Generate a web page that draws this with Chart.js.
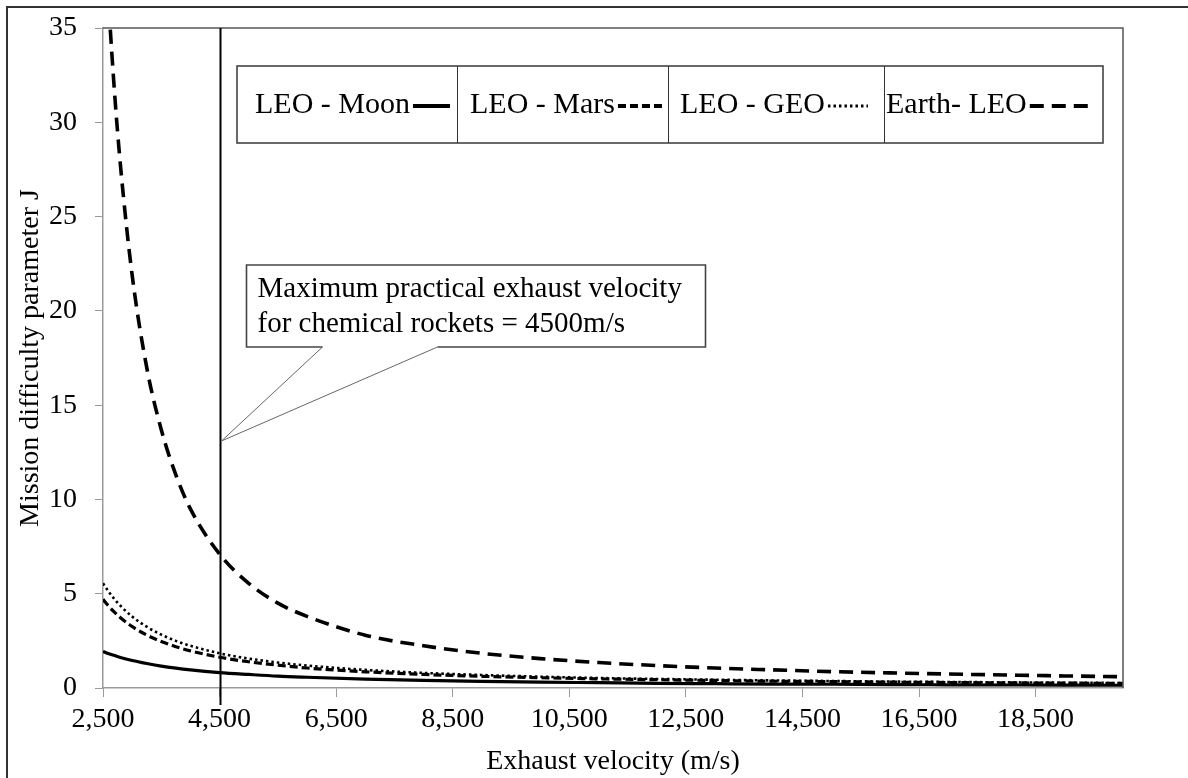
<!DOCTYPE html>
<html>
<head>
<meta charset="utf-8">
<title>Mission difficulty parameter</title>
<script src="https://cdn.jsdelivr.net/npm/chart.js@4.4.1/dist/chart.umd.min.js"></script>
<style>
  html, body { margin: 0; padding: 0; background: #fff; }
  #wrap { width: 1188px; height: 778px; position: relative; }
</style>
</head>
<body>
<div id="wrap"><canvas id="chart" width="1188" height="778"></canvas></div>
<script>
// exhaust velocity samples (m/s)
const velocities = [2500, 2600, 2700, 2800, 3000, 3250, 3500, 3750, 4000, 4500, 5000, 5500, 6000,
  7000, 8000, 9000, 10000, 11000, 12000, 13000, 14000, 15000, 16000, 17000, 18000, 19000, 20000];

// mission difficulty parameter J for each mission
const leoMoon  = [1.94, 1.82, 1.72, 1.62, 1.46, 1.30, 1.16, 1.05, 0.96, 0.82, 0.72, 0.63, 0.57,
  0.47, 0.40, 0.35, 0.31, 0.28, 0.25, 0.23, 0.21, 0.20, 0.18, 0.17, 0.16, 0.15, 0.145];
const leoMars  = [4.70, 4.33, 4.01, 3.73, 3.26, 2.81, 2.47, 2.19, 1.97, 1.63, 1.39, 1.21, 1.06,
  0.86, 0.72, 0.62, 0.545, 0.485, 0.44, 0.40, 0.36, 0.34, 0.31, 0.29, 0.27, 0.26, 0.24];
const leoGeo   = [5.55, 5.10, 4.70, 4.36, 3.79, 3.25, 2.83, 2.50, 2.24, 1.84, 1.56, 1.35, 1.19,
  0.96, 0.80, 0.69, 0.60, 0.53, 0.48, 0.44, 0.40, 0.37, 0.34, 0.32, 0.30, 0.28, 0.265];
const earthLeo = [41.9, 36.2, 31.5, 27.7, 21.9, 17.0, 13.7, 11.3, 9.5, 7.1, 5.55, 4.5, 3.8,
  2.8, 2.24, 1.84, 1.56, 1.35, 1.19, 1.06, 0.96, 0.87, 0.80, 0.74, 0.69, 0.64, 0.60];

const seriesNames = ['LEO - Moon', 'LEO - Mars', 'LEO - GEO', 'Earth- LEO'];
const xTicks = [2500, 4500, 6500, 8500, 10500, 12500, 14500, 16500, 18500];
const yTicks = [0, 5, 10, 15, 20, 25, 30, 35];

const maxChemicalVelocity = 4500;
const calloutValue = 13.1;
const calloutLines = ['Maximum practical exhaust velocity', 'for chemical rockets = 4500m/s'];

const SERIF = "'Liberation Serif', 'Times New Roman', serif";

function points(ys) {
  return velocities.map((v, i) => ({ x: v, y: ys[i] }));
}

const lineStyle = [
  { dash: [], width: 3.2 },
  { dash: [8, 4], width: 3.2 },
  { dash: [2.5, 3], width: 2.6 },
  { dash: [14, 8], width: 3.6 }
];

// legend cells (pixel layout)
const legendBox = { top: 66, bottom: 143, dividers: [237, 457, 668, 884, 1103] };
const legendTextX = [255, 470, 680, 886];
const legendSampleLen = [37, 44, 40, 64];

const framePlugin = {
  id: 'frame',
  afterDatasetsDraw(chart) {
    const ctx = chart.ctx;
    const a = chart.chartArea;
    const xs = chart.scales.x, ys = chart.scales.y;
    ctx.save();

    // outer frame (left + top)
    ctx.strokeStyle = '#333';
    ctx.lineWidth = 2;
    ctx.beginPath();
    ctx.moveTo(7, 778);
    ctx.lineTo(7, 7);
    ctx.lineTo(1188, 7);
    ctx.stroke();

    // plot area top / right border
    ctx.strokeStyle = '#555';
    ctx.lineWidth = 1.5;
    ctx.beginPath();
    ctx.moveTo(a.left, a.top);
    ctx.lineTo(a.right, a.top);
    ctx.lineTo(a.right, a.bottom);
    ctx.stroke();

    // vertical marker at max chemical exhaust velocity
    const vx = Math.round(xs.getPixelForValue(maxChemicalVelocity)) + 0.5;
    ctx.strokeStyle = '#000';
    ctx.lineWidth = 2;
    ctx.beginPath();
    ctx.moveTo(vx, a.top);
    ctx.lineTo(vx, a.bottom + 17);
    ctx.stroke();

    // callout
    const tipX = vx + 1, tipY = ys.getPixelForValue(calloutValue);
    const bl = tipX + 25, bt = tipY - 176, br = bl + 459, bb = bt + 82;
    const p1 = tipX + 101, p2 = tipX + 216;
    ctx.fillStyle = '#fff';
    ctx.beginPath();
    ctx.moveTo(bl, bt); ctx.lineTo(br, bt); ctx.lineTo(br, bb); ctx.lineTo(p2, bb);
    ctx.lineTo(tipX, tipY); ctx.lineTo(p1, bb); ctx.lineTo(bl, bb); ctx.closePath();
    ctx.fill();
    ctx.strokeStyle = '#444';
    ctx.lineWidth = 1.6;
    ctx.beginPath();
    ctx.moveTo(p1, bb); ctx.lineTo(bl, bb); ctx.lineTo(bl, bt); ctx.lineTo(br, bt);
    ctx.lineTo(br, bb); ctx.lineTo(p2, bb);
    ctx.stroke();
    ctx.strokeStyle = '#666';
    ctx.lineWidth = 1;
    ctx.beginPath();
    ctx.moveTo(p1, bb); ctx.lineTo(tipX, tipY); ctx.lineTo(p2, bb);
    ctx.stroke();
    ctx.fillStyle = '#000';
    ctx.font = '29px ' + SERIF;
    ctx.textBaseline = 'alphabetic';
    ctx.textAlign = 'left';
    ctx.fillText(calloutLines[0], bl + 11, bt + 32);
    ctx.fillText(calloutLines[1], bl + 11, bt + 67);

    // legend
    const d = legendBox.dividers;
    ctx.fillStyle = '#fff';
    ctx.fillRect(d[0], legendBox.top, d[d.length - 1] - d[0], legendBox.bottom - legendBox.top);
    ctx.strokeStyle = '#444';
    ctx.lineWidth = 1.6;
    ctx.strokeRect(d[0], legendBox.top, d[d.length - 1] - d[0], legendBox.bottom - legendBox.top);
    ctx.lineWidth = 1;
    ctx.strokeStyle = '#333';
    for (let i = 1; i < d.length - 1; i++) {
      ctx.beginPath();
      ctx.moveTo(d[i] + 0.5, legendBox.top);
      ctx.lineTo(d[i] + 0.5, legendBox.bottom);
      ctx.stroke();
    }
    ctx.font = '30px ' + SERIF;
    chart.data.datasets.forEach((ds, i) => {
      ctx.fillStyle = '#000';
      ctx.fillText(ds.label, legendTextX[i], 113);
      const w = ctx.measureText(ds.label).width;
      const sx = legendTextX[i] + w + 3;
      ctx.strokeStyle = '#000';
      ctx.lineWidth = ds.borderWidth + 0.6;
      ctx.setLineDash(ds.borderDash || []);
      ctx.beginPath();
      ctx.moveTo(sx, 106);
      ctx.lineTo(sx + legendSampleLen[i], 106);
      ctx.stroke();
      ctx.setLineDash([]);
    });

    ctx.restore();
  }
};

const series = [leoMoon, leoMars, leoGeo, earthLeo];

new Chart(document.getElementById('chart'), {
  type: 'line',
  data: {
    datasets: series.map((ys, i) => ({
      label: seriesNames[i],
      data: points(ys),
      borderColor: '#000',
      borderWidth: lineStyle[i].width,
      borderDash: lineStyle[i].dash,
      pointRadius: 0,
      fill: false,
      cubicInterpolationMode: 'monotone'
    }))
  },
  options: {
    responsive: false,
    animation: false,
    devicePixelRatio: 1,
    layout: { padding: { left: 7, top: 28, right: 65, bottom: 0 } },
    plugins: {
      legend: { display: false },
      tooltip: { enabled: false }
    },
    scales: {
      x: {
        type: 'linear',
        min: 2500,
        max: 20000,
        afterBuildTicks: (scale) => { scale.ticks = xTicks.map(v => ({ value: v })); },
        afterFit: (scale) => { scale.height = 90; },
        border: { display: true, color: '#9a9a9a', width: 1.5 },
        grid: { drawOnChartArea: false, color: '#9a9a9a', tickLength: 9 },
        ticks: {
          color: '#000',
          font: { family: SERIF, size: 28 },
          padding: 6,
          maxRotation: 0,
          autoSkip: false,
          callback: (v) => v.toLocaleString('en-US')
        },
        title: {
          display: true,
          text: 'Exhaust velocity (m/s)',
          color: '#000',
          font: { family: SERIF, size: 28 },
          padding: { top: 0, bottom: 0 }
        }
      },
      y: {
        min: 0,
        max: 35,
        afterBuildTicks: (scale) => { scale.ticks = yTicks.map(v => ({ value: v })); },
        afterFit: (scale) => {
          scale.width = 96;
          scale.paddingTop = 0;
          scale.paddingBottom = 0;
        },
        border: { display: true, color: '#9a9a9a', width: 1.5 },
        grid: { drawOnChartArea: false, color: '#9a9a9a', tickLength: 8 },
        ticks: {
          color: '#000',
          font: { family: SERIF, size: 28 },
          padding: 18
        },
        title: {
          display: true,
          text: 'Mission difficulty parameter J',
          color: '#000',
          font: { family: SERIF, size: 28 },
          padding: { top: 7, bottom: 0 }
        }
      }
    }
  },
  plugins: [framePlugin]
});
</script>
</body>
</html>
